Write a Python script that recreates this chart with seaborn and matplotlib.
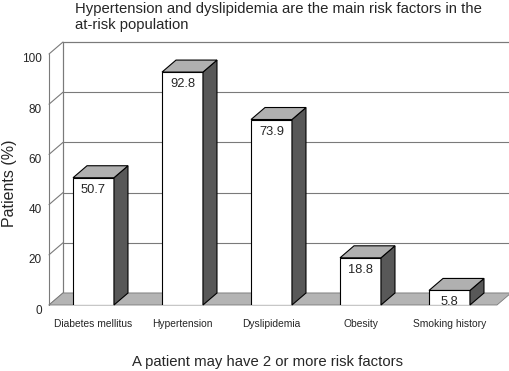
import numpy as np
import matplotlib
matplotlib.use("Agg")
import matplotlib.pyplot as plt
from matplotlib.patches import Polygon
from matplotlib import transforms
import seaborn as sns

sns.set_style("white")
plt.rcParams['font.family'] = ['Liberation Sans', 'DejaVu Sans']

# data
categories = ['Diabetes mellitus', 'Hypertension', 'Dyslipidemia', 'Obesity', 'Smoking history']
values = [50.7, 92.8, 73.9, 18.8, 5.8]
yticks = [0, 20, 40, 60, 80, 100]

W, H = 510, 371
fig = plt.figure(figsize=(W / 100, H / 100), dpi=100)
ax = fig.add_axes([49 / W, 66 / H, 448 / W, 251 / H])

sns.barplot(x=categories, y=values, width=0.46, color='white', edgecolor='black',
            linewidth=0.8, saturation=1, ax=ax)
xmax = -0.5 + 448 / 89
ax.set_xlim(-0.5, xmax)
ax.set_ylim(0, 100)

# depth of the fake 3d box, in data units
ddx = 14 / 89
ddy = 12 * 100 / 251
grid_c = '#7a7a7a'
x0 = -0.5

# back wall + grid
ax.add_patch(Polygon([(x0 + ddx, ddy), (xmax + ddx, ddy), (xmax + ddx, 100 + ddy), (x0 + ddx, 100 + ddy)],
                     closed=True, facecolor='white', edgecolor=grid_c, lw=0.8, zorder=0.5, clip_on=False))
for v in yticks:
    ax.plot([x0 + ddx, xmax + ddx], [v + ddy, v + ddy], color=grid_c, lw=0.8, zorder=0.6, clip_on=False)
    ax.plot([x0, x0 + ddx], [v, v + ddy], color=grid_c, lw=0.8, zorder=0.6, clip_on=False)
ax.plot([x0, x0], [0, 100], color=grid_c, lw=0.8, zorder=0.6, clip_on=False)
ax.plot([x0 + ddx, x0 + ddx], [ddy, 100 + ddy], color=grid_c, lw=0.8, zorder=0.6, clip_on=False)

# floor
ax.add_patch(Polygon([(x0, 0), (xmax, 0), (xmax + ddx, ddy), (x0 + ddx, ddy)], closed=True,
                     facecolor='#b4b4b4', edgecolor=grid_c, lw=0.6, zorder=1, clip_on=False))

# side and top faces of the bars
for p, val in zip(ax.patches[:len(values)], values):
    p.set_zorder(3)
    xl = p.get_x()
    xr = xl + p.get_width()
    h = p.get_height()
    ax.add_patch(Polygon([(xr, 0), (xr + ddx, ddy), (xr + ddx, h + ddy), (xr, h)], closed=True,
                         facecolor='#585858', edgecolor='black', lw=0.8, zorder=3, clip_on=False))
    ax.add_patch(Polygon([(xl, h), (xr, h), (xr + ddx, h + ddy), (xl + ddx, h + ddy)], closed=True,
                         facecolor='#b0b0b0', edgecolor='black', lw=0.8, zorder=3, clip_on=False))
    ax.annotate(f'{val}', (xl + p.get_width() / 2, h), xytext=(0, -12), textcoords='offset pixels',
                ha='center', va='center', fontsize=9.3, zorder=4)

for s in ax.spines.values():
    s.set_visible(False)
ax.set_yticks(yticks)
ax.set_yticklabels([str(v) for v in yticks], fontsize=8.5)
ax.tick_params(axis='y', length=0, pad=5)
ax.tick_params(axis='x', length=0, pad=10)
for lab in ax.get_xticklabels():
    lab.set_fontsize(7.4)
off = transforms.ScaledTranslation(0, -4 / 100, fig.dpi_scale_trans)
for lab in ax.get_yticklabels():
    lab.set_transform(lab.get_transform() + off)
ax.set_xlabel('')
ax.set_ylabel('')

fig.text(10 / W, 1 - 183 / H, 'Patients (%)', rotation=90, ha='center', va='center', fontsize=11.5)
fig.text(75 / W, 1 - 2 / H, 'Hypertension and dyslipidemia are the main risk factors in the\nat-risk population',
         ha='left', va='top', fontsize=10.7, linespacing=1.22)
fig.text(268 / W, 1 - 362 / H, 'A patient may have 2 or more risk factors', ha='center', va='center', fontsize=10.7)

fig.savefig('out.png', dpi=100)
